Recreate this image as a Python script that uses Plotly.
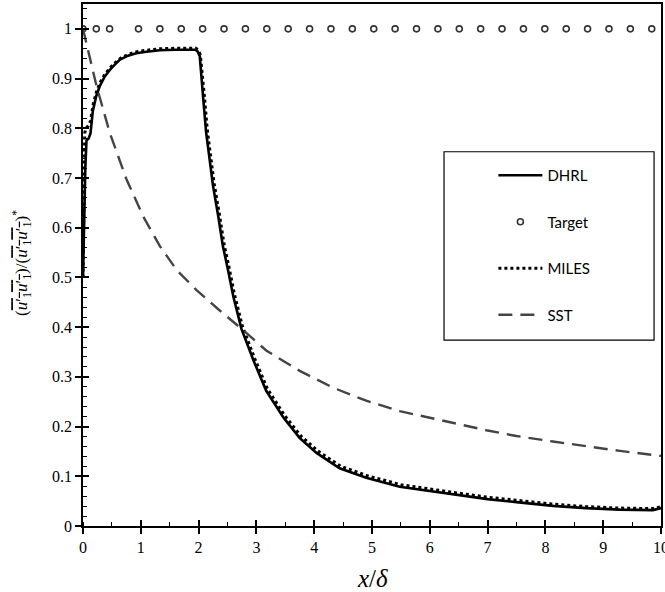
import plotly.graph_objects as go

# DHRL solution
dhrl_x = [0, 0.02, 0.04, 0.06, 0.1, 0.13, 0.17, 0.23, 0.29, 0.37, 0.46, 0.55, 0.64, 0.78, 0.92,
          1.1, 1.33, 1.6, 1.94, 1.98, 2.02, 2.08, 2.13, 2.19, 2.25, 2.34, 2.42, 2.5, 2.6, 2.74,
          2.95, 3.17, 3.47, 3.75, 4.04, 4.44, 4.9, 5.48, 6.0, 6.5, 7.0, 7.5, 8.13, 8.7, 9.29, 9.86, 10]
dhrl_y = [0.50, 0.62, 0.72, 0.775, 0.78, 0.79, 0.835, 0.865, 0.885, 0.903, 0.917, 0.928, 0.938, 0.946, 0.951,
          0.954, 0.957, 0.958, 0.958, 0.955, 0.945, 0.86, 0.792, 0.738, 0.684, 0.623, 0.563, 0.52, 0.462, 0.397,
          0.333, 0.272, 0.218, 0.177, 0.147, 0.116, 0.097, 0.079, 0.07, 0.062, 0.054, 0.048, 0.0405, 0.036, 0.033, 0.032, 0.036]

# Target level
target_x = [0, 0.23, 0.46, 0.96, 1.33, 1.70, 2.07, 2.44, 2.81, 3.18, 3.55, 3.92, 4.29, 4.66, 5.03,
            5.40, 5.77, 6.14, 6.51, 6.88, 7.25, 7.62, 7.99, 8.36, 8.73, 9.10, 9.47, 9.84]
target_y = [1.0] * len(target_x)

# MILES solution
miles_x = [0, 0.015, 0.03, 0.05, 0.09, 0.13, 0.18, 0.24, 0.3, 0.38, 0.47, 0.56, 0.65, 0.79, 0.93,
           1.1, 1.33, 1.6, 1.95, 1.99, 2.03, 2.1, 2.15, 2.21, 2.27, 2.36, 2.44, 2.52, 2.62, 2.76,
           2.97, 3.19, 3.49, 3.77, 4.06, 4.46, 4.92, 5.5, 6.0, 6.5, 7.0, 7.5, 8.13, 8.7, 9.29, 9.86, 10]
miles_y = [0.5, 0.66, 0.79, 0.8, 0.805, 0.815, 0.85, 0.876, 0.893, 0.909, 0.922, 0.932, 0.941, 0.949, 0.954,
           0.957, 0.96, 0.961, 0.961, 0.958, 0.948, 0.865, 0.797, 0.742, 0.688, 0.627, 0.567, 0.524, 0.466, 0.401,
           0.337, 0.276, 0.222, 0.181, 0.151, 0.12, 0.101, 0.083, 0.074, 0.066, 0.058, 0.052, 0.044, 0.039, 0.036, 0.035, 0.039]

# SST solution
sst_x = [0, 0.09, 0.23, 0.46, 0.75, 1.04, 1.33, 1.62, 1.96, 2.35, 2.74, 3.17, 3.75, 4.33, 4.9,
         5.48, 6.0, 6.5, 7.0, 7.5, 8.13, 8.7, 9.29, 10]
sst_y = [1.0, 0.955, 0.887, 0.792, 0.698, 0.623, 0.563, 0.515, 0.475, 0.435, 0.397, 0.353, 0.312, 0.278, 0.252,
         0.231, 0.217, 0.205, 0.192, 0.181, 0.17, 0.16, 0.151, 0.141]

x_ticks = list(range(0, 11))
y_ticks = [0, 0.1, 0.2, 0.3, 0.4, 0.5, 0.6, 0.7, 0.8, 0.9, 1]
y_ticklabels = ["0", "0.1", "0.2", "0.3", "0.4", "0.5", "0.6", "0.7", "0.8", "0.9", "1"]

X_RANGE = [0, 10]
Y_RANGE = [0, 1.05]
SERIF = "Liberation Serif"
SANS = "Lato"

fig = go.Figure()

fig.add_trace(go.Scatter(x=dhrl_x, y=dhrl_y, mode="lines", name="DHRL",
                         line=dict(color="black", width=2.6), legendgroup="a"))
fig.add_trace(go.Scatter(x=target_x, y=target_y, mode="markers", name="Target",
                         marker=dict(symbol="circle-open", size=6, color="#333333",
                                     line=dict(width=1.6, color="#333333")), legendgroup="b"))
fig.add_trace(go.Scatter(x=miles_x, y=miles_y, mode="lines", name="MILES",
                         line=dict(color="black", width=3, dash="3px,3px"), legendgroup="c"))
fig.add_trace(go.Scatter(x=sst_x, y=sst_y, mode="lines", name="SST",
                         line=dict(color="#444444", width=2.4, dash="14px,8px"), legendgroup="d"))

# invisible trace carrying the overlay axes used for the inner half of the major ticks
fig.add_trace(go.Scatter(x=[0], y=[0], xaxis="x2", yaxis="y2", mode="markers",
                         marker=dict(opacity=0), showlegend=False, hoverinfo="skip"))

axis_common = dict(showgrid=False, zeroline=False, showline=True, linecolor="black",
                   linewidth=1.5, mirror=True, tickcolor="black", tickwidth=1.5,
                   ticklabeloverflow="allow", automargin=False,
                   tickfont=dict(family=SERIF, size=16, color="black"))

fig.update_layout(
    width=665, height=592,
    margin=dict(l=83, r=4, t=4, b=66),
    paper_bgcolor="white", plot_bgcolor="white",
    font=dict(family=SERIF, size=16, color="black"),
    xaxis=dict(range=X_RANGE, tickvals=x_ticks, ticks="outside", ticklen=6,
               minor=dict(ticks="inside", ticklen=4, dtick=0.5, tickcolor="black", tickwidth=1.2),
               **axis_common),
    yaxis=dict(range=Y_RANGE, tickvals=y_ticks, ticktext=y_ticklabels, ticks="outside", ticklen=6,
               minor=dict(ticks="inside", ticklen=4, dtick=0.02, tickcolor="black", tickwidth=1.2),
               **axis_common),
    xaxis2=dict(range=X_RANGE, overlaying="x", anchor="y2", tickvals=x_ticks, ticks="inside",
                ticklen=6, tickwidth=1.5, tickcolor="black", showticklabels=False,
                showgrid=False, zeroline=False, showline=False, automargin=False),
    yaxis2=dict(range=Y_RANGE, overlaying="y", anchor="x2", tickvals=y_ticks, ticks="inside",
                ticklen=6, tickwidth=1.5, tickcolor="black", showticklabels=False,
                showgrid=False, zeroline=False, showline=False, automargin=False),
    showlegend=True,
    legend=dict(x=0.71, y=0.703, xanchor="left", yanchor="top",
                bgcolor="rgba(0,0,0,0)", borderwidth=0,
                font=dict(family=SANS, size=15, color="black"),
                itemwidth=44, tracegroupgap=24, traceorder="grouped"),
    shapes=[dict(type="rect", xref="paper", yref="paper",
                 x0=0.6246, x1=0.988, y0=0.356, y1=0.717,
                 line=dict(color="black", width=1.2), fillcolor="rgba(0,0,0,0)")],
    annotations=[
        dict(text="<i>x</i>/<i>δ</i>", xref="paper", yref="paper", x=0.5, y=-0.1,
             xanchor="center", yanchor="middle", showarrow=False,
             font=dict(family=SERIF, size=25, color="black")),
        dict(text=("(<span style=\"text-decoration:overline\"><i>u</i>′<sub>1</sub><i>u</i>′<sub>1</sub></span>)"
                   "/(<span style=\"text-decoration:overline\"><i>u</i>′<sub>1</sub><i>u</i>′<sub>1</sub></span>)<sup>*</sup>"),
             xref="paper", yref="paper", x=-0.1055, y=0.504, textangle=-90,
             xanchor="center", yanchor="middle", showarrow=False,
             font=dict(family=SERIF, size=17, color="black")),
    ],
)

fig.write_html("out.html")
